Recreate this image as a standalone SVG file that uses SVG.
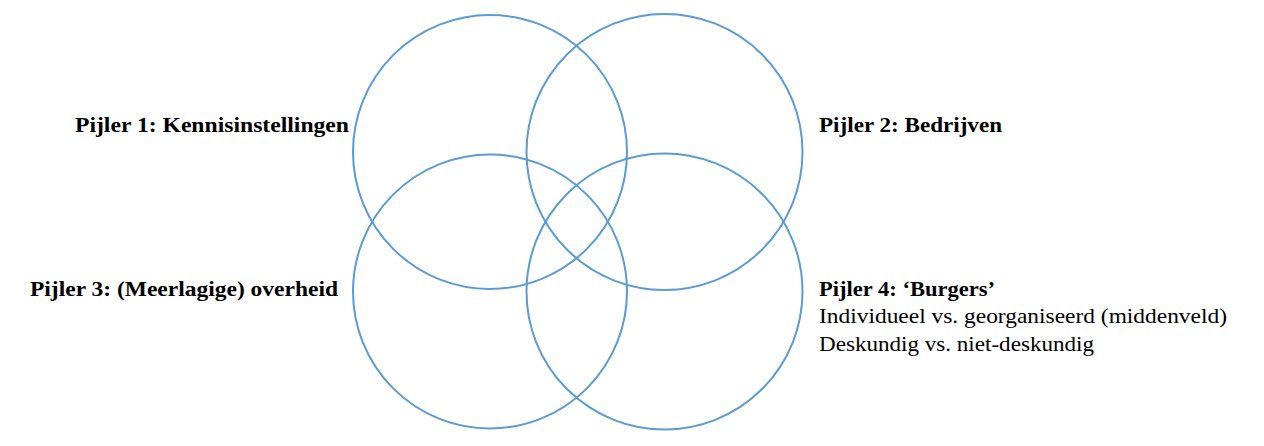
<svg xmlns="http://www.w3.org/2000/svg" width="1264" height="446" viewBox="0 0 1264 446">
<style>
.c{fill:none;stroke:#5b9bd5;stroke-width:2}
.t{font-family:"Liberation Serif","DejaVu Serif",serif;font-size:21px;fill:#000}
.b{font-weight:bold}
</style>
<rect width="1264" height="446" fill="#fff"/>
<g id="circle1"><circle class="c" cx="490" cy="152" r="137"/></g>
<g id="circle2"><circle class="c" cx="664.5" cy="152" r="138"/></g>
<g id="circle3"><circle class="c" cx="490" cy="291.5" r="137"/></g>
<g id="circle4"><circle class="c" cx="664.5" cy="291.5" r="138"/></g>
<g id="label1"><text class="t b" x="75" y="132" textLength="274" lengthAdjust="spacingAndGlyphs">Pijler 1: Kennisinstellingen</text></g>
<g id="label2"><text class="t b" x="819" y="132" textLength="183" lengthAdjust="spacingAndGlyphs">Pijler 2: Bedrijven</text></g>
<g id="label3"><text class="t b" x="30" y="296" textLength="308" lengthAdjust="spacingAndGlyphs">Pijler 3: (Meerlagige) overheid</text></g>
<g id="label4">
<text class="t b" x="819" y="296" textLength="176" lengthAdjust="spacingAndGlyphs">Pijler 4: ‘Burgers’</text>
<text class="t" x="819" y="323" textLength="408" lengthAdjust="spacingAndGlyphs">Individueel vs. georganiseerd (middenveld)</text>
<text class="t" x="819" y="351" textLength="275" lengthAdjust="spacingAndGlyphs">Deskundig vs. niet-deskundig</text>
</g>
</svg>
